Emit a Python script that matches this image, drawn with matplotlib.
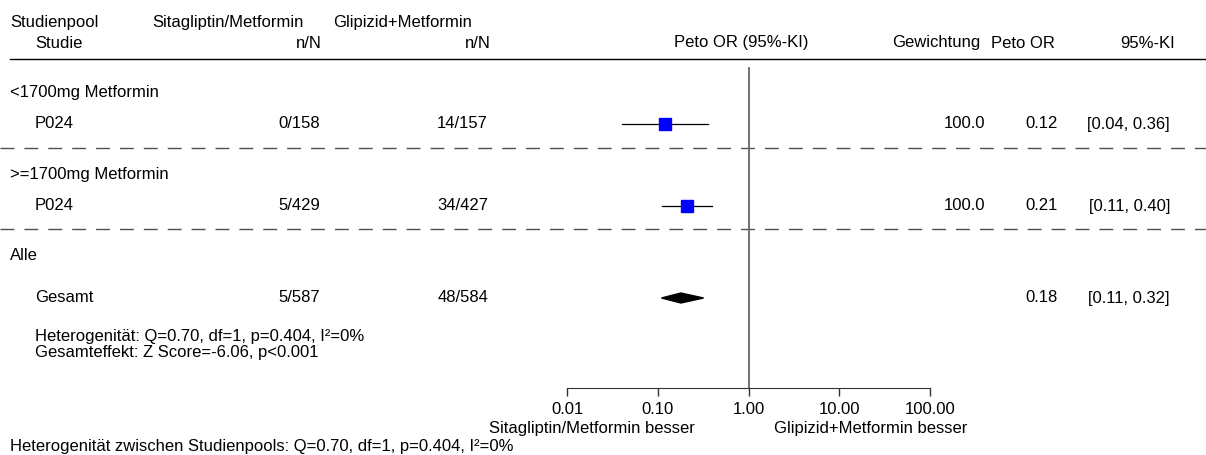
import numpy as np
import matplotlib.pyplot as plt
from matplotlib.patches import Polygon

plt.rcParams['font.family'] = ['Liberation Sans', 'DejaVu Sans']

# data
group_labels = ['<1700mg Metformin', '>=1700mg Metformin', 'Alle']
study_labels = ['P024', 'P024']
sita_nN = ['0/158', '5/429']
glip_nN = ['14/157', '34/427']
weights = ['100.0', '100.0']
peto_or = [0.12, 0.21]
ci_low = [0.04, 0.11]
ci_high = [0.36, 0.40]

total_label = 'Gesamt'
total_sita = '5/587'
total_glip = '48/584'
total_or = 0.18
total_low = 0.11
total_high = 0.32

ticks = [0.01, 0.1, 1, 10, 100]
tick_labels = ['0.01', '0.10', '1.00', '10.00', '100.00']

# layout (pixel rows from top)
W, H = 1206, 455
group_y = [93, 175, 256]
study_y = [124, 206]
total_y = 298
dash_y = [148, 229]
axis_y = 388
FS = 12

fig = plt.figure(figsize=(W / 100, H / 100), dpi=100)
bg = fig.add_axes([0, 0, 1, 1])
bg.set_xlim(0, W)
bg.set_ylim(H, 0)
bg.axis('off')


def txt(x, y, s, ha='left'):
    bg.text(x, y, s, ha=ha, va='center', fontsize=FS)


# header
txt(10, 23, 'Studienpool')
txt(35, 43, 'Studie')
txt(152, 23, 'Sitagliptin/Metformin')
txt(322, 43, 'n/N', 'right')
txt(333, 23, 'Glipizid+Metformin')
txt(491, 43, 'n/N', 'right')
txt(809, 43, 'Peto OR (95%-KI)', 'right')
txt(980, 43, 'Gewichtung', 'right')
txt(1055, 43, 'Peto OR', 'right')
txt(1175, 43, '95%-KI', 'right')
bg.plot([10, W], [59, 59], color='black', lw=1)

for gy, g in zip(group_y, group_labels):
    txt(10, gy, g)

for i, y in enumerate(study_y):
    txt(35, y, study_labels[i])
    txt(320, y, sita_nN[i], 'right')
    txt(488, y, glip_nN[i], 'right')
    txt(985, y, weights[i], 'right')
    txt(1058, y, f'{peto_or[i]:.2f}', 'right')
    txt(1170, y, f'[{ci_low[i]:.2f}, {ci_high[i]:.2f}]', 'right')

txt(35, total_y, total_label)
txt(320, total_y, total_sita, 'right')
txt(488, total_y, total_glip, 'right')
txt(1058, total_y, f'{total_or:.2f}', 'right')
txt(1170, total_y, f'[{total_low:.2f}, {total_high:.2f}]', 'right')
txt(35, 337, 'Heterogenität: Q=0.70, df=1, p=0.404, I²=0%')
txt(35, 352, 'Gesamteffekt: Z Score=-6.06, p<0.001')
txt(10, 446, 'Heterogenität zwischen Studienpools: Q=0.70, df=1, p=0.404, I²=0%')

for dy in dash_y:
    bg.plot([0, W], [dy, dy], color='#505050', lw=1, dashes=(10, 7.2))

# forest column, log scale
x0, x1 = 567, 930
fa = fig.add_axes([x0 / W, 0, (x1 - x0) / W, 1])
fa.set_xscale('log')
fa.set_xlim(0.01, 100)
fa.set_ylim(H, 0)
fa.patch.set_alpha(0)
for s in ['top', 'right', 'left']:
    fa.spines[s].set_visible(False)
fa.spines['bottom'].set_position(('data', axis_y))
fa.spines['bottom'].set_color('#333333')
fa.set_yticks([])
fa.set_xticks(ticks)
fa.set_xticklabels(tick_labels, fontsize=FS)
fa.xaxis.set_minor_locator(plt.NullLocator())
fa.tick_params(axis='x', direction='out', length=6, width=1, colors='#333333',
               labelcolor='black', pad=4)

fa.plot([1, 1], [68, axis_y], color='#666666', lw=1.3, clip_on=False)

for i, y in enumerate(study_y):
    fa.plot([ci_low[i], ci_high[i]], [y, y], color='black', lw=0.9, clip_on=False)
    fa.plot(peto_or[i], y, marker='s', ms=8.5, color='#0000ff', mec='#0000ff', clip_on=False)

dia = Polygon([[total_low, total_y], [total_or, total_y - 5], [total_high, total_y],
               [total_or, total_y + 5]], closed=True, color='black', clip_on=False)
fa.add_patch(dia)

bg.text(695, 429, 'Sitagliptin/Metformin besser', ha='right', va='center', fontsize=FS)
bg.text(774, 429, 'Glipizid+Metformin besser', ha='left', va='center', fontsize=FS)

fig.savefig('out.png', dpi=100)
